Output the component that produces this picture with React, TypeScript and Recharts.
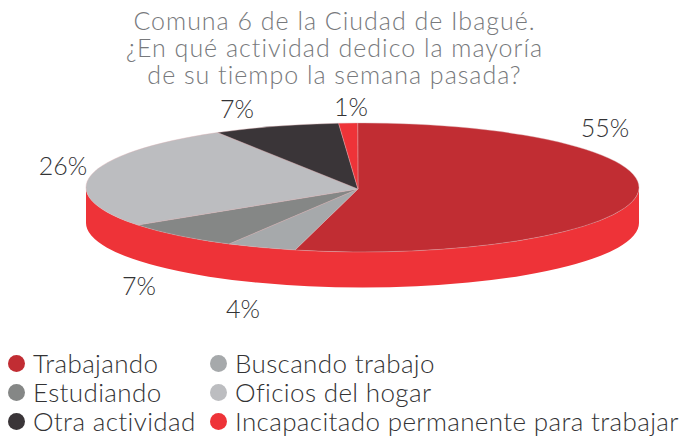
import React from "react";
import { PieChart, Pie, Legend } from "recharts";

const categories = ["Trabajando", "Buscando trabajo", "Estudiando", "Oficios del hogar", "Otra actividad", "Incapacitado permanente para trabajar"];
const values = [54.2, 4.1, 7.1, 26.1, 7.4, 1.1];
const percentLabels = ["55%", "4%", "7%", "26%", "7%", "1%"];
const colors = ["#c12d33", "#a6a9ab", "#858786", "#bcbdc0", "#3a3538", "#ee3338"];
const titleLines = ["Comuna 6 de la Ciudad de Ibagué.", "¿En qué actividad dedico la mayoría", "de su tiempo la semana pasada?"];

const rimColor = "#ee3338";
const rimData = [{ name: "rim", value: 100, fill: rimColor }];
const table = categories.map((name, i) => ({ name, value: values[i], fill: colors[i], label: percentLabels[i] }));

const WIDTH = 682;
const HEIGHT = 439;
const CX = 362.5;
const CY = 187.5;
const RX = 276.5;
const RY = 64.5;
const DEPTH = 35.5;
const APEX_DX = -4.5;
const APEX_DY = 1.5;
const labelAnchors = [
  { x: 605, y: 137 },
  { x: 243, y: 318 },
  { x: 139, y: 295 },
  { x: 63, y: 175 },
  { x: 237, y: 118 },
  { x: 351, y: 116 },
];
const FONT = "Lato, sans-serif";

const rad = (a: number) => (a * Math.PI) / 180;
const pt = (cx: number, cy: number, a: number) => [cx + RX * Math.cos(rad(a)), cy - RY * Math.sin(rad(a))];

const TopSlice = (p: any) => {
  const { cx, cy, startAngle, endAngle, fill } = p;
  const [x0, y0] = pt(cx, cy, startAngle);
  const [x1, y1] = pt(cx, cy, endAngle);
  const large = Math.abs(startAngle - endAngle) > 180 ? 1 : 0;
  const d = `M${cx + APEX_DX},${cy + APEX_DY} L${x0},${y0} A${RX},${RY} 0 ${large} 1 ${x1},${y1} Z`;
  return <path d={d} fill={fill} stroke="#d9aeb0" strokeWidth={0.4} />;
};

const RimBand = (p: any) => {
  const { cx, cy, startAngle, endAngle, fill } = p;
  const [x0, y0] = pt(cx, cy, startAngle);
  const [x1, y1] = pt(cx, cy, endAngle);
  const d = `M${x0},${y0} A${RX},${RY} 0 0 1 ${x1},${y1} L${x1},${y1 + DEPTH} A${RX},${RY} 0 0 0 ${x0},${y0 + DEPTH} Z`;
  return <path d={d} fill={fill} />;
};

const renderLabel = (p: any) => {
  const a = labelAnchors[p.index];
  return (
    <text x={a.x} y={a.y} textAnchor="middle" fontFamily={FONT} fontWeight={300} fontSize={25} fill="#333335">
      {percentLabels[p.index]}
    </text>
  );
};

const legendColumns = [33, 235];
const LegendBox = () => (
  <div style={{ position: "relative", width: WIDTH, height: 90, fontFamily: FONT, fontWeight: 300, fontSize: 26, color: "#333335", letterSpacing: 0.36 }}>
    {categories.map((c, i) => {
      const col = i % 2;
      const row = Math.floor(i / 2);
      return (
        <div key={c} style={{ position: "absolute", left: legendColumns[col] - 25, top: row * 29, height: 30, whiteSpace: "nowrap", display: "flex", alignItems: "center" }}>
          <span style={{ width: 17, height: 17, borderRadius: "50%", background: colors[i], marginRight: 8, flex: "none" }} />
          <span>{c}</span>
        </div>
      );
    })}
  </div>
);

export default function App() {
  return (
    <div style={{ position: "absolute", left: 0, top: 0, width: WIDTH, height: HEIGHT }}>
      <PieChart width={WIDTH} height={HEIGHT} margin={{ top: 0, right: 0, bottom: 0, left: 0 }}>
        <text textAnchor="middle" fontFamily={FONT} fontWeight={300} fontSize={25} fill="#77797c" letterSpacing={1.0}>
          {titleLines.map((t, i) => (
            <tspan key={t} x={334.5} y={29.5 + i * 27}>{t}</tspan>
          ))}
        </text>
        <Pie data={rimData} dataKey="value" nameKey="name" cx={CX} cy={CY} outerRadius={RX} startAngle={0} endAngle={-180}
          shape={RimBand} legendType="none" isAnimationActive={false} />
        <Pie data={table} dataKey="value" nameKey="name" cx={CX} cy={CY} outerRadius={RX} startAngle={91} endAngle={-269}
          shape={TopSlice} label={renderLabel} labelLine={false} isAnimationActive={false} />
        <Legend content={<LegendBox />} wrapperStyle={{ left: 0, top: 348, width: WIDTH }} />
      </PieChart>
    </div>
  );
}
